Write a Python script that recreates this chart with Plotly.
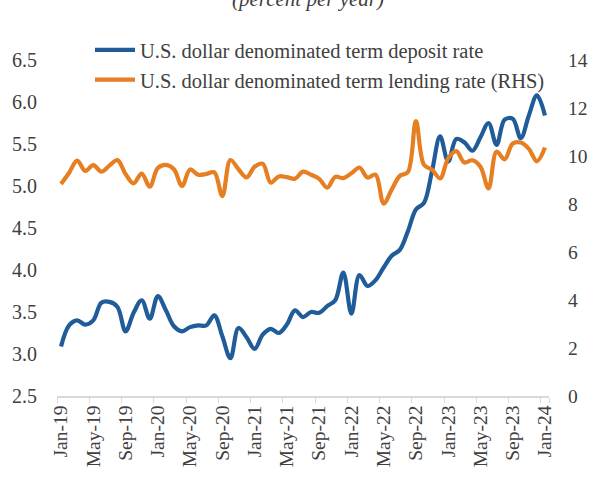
import plotly.graph_objects as go

months = ["Jan", "Feb", "Mar", "Apr", "May", "Jun", "Jul", "Aug", "Sep", "Oct", "Nov", "Dec"]
categories = [f"{m}-{y:02d}" for y in range(19, 24) for m in months] + ["Jan-24"]

deposit_rate = [
    3.09, 3.34, 3.40, 3.35, 3.40, 3.61, 3.62, 3.56, 3.27, 3.49, 3.64, 3.42,
    3.69, 3.52, 3.33, 3.27, 3.32, 3.34, 3.34, 3.46, 3.21, 2.95, 3.31, 3.20,
    3.06, 3.23, 3.30, 3.25, 3.35, 3.52, 3.44, 3.50, 3.49, 3.57, 3.64, 3.97,
    3.48, 3.94, 3.81, 3.88, 4.03, 4.17, 4.24, 4.46, 4.72, 4.80, 5.18, 5.59,
    5.29, 5.56, 5.52, 5.42, 5.58, 5.75, 5.49, 5.79, 5.80, 5.57, 5.84, 6.08,
    5.84,
]

lending_rate = [
    8.83, 9.30, 9.81, 9.38, 9.62, 9.35, 9.60, 9.83, 9.25, 8.86, 9.27, 8.72,
    9.50, 9.63, 9.45, 8.75, 9.44, 9.22, 9.25, 9.32, 8.33, 9.83, 9.45, 9.11,
    9.55, 9.68, 8.89, 9.15, 9.12, 9.05, 9.35, 9.22, 9.05, 8.68, 9.13, 9.08,
    9.28, 9.52, 9.10, 9.22, 8.02, 8.60, 9.17, 9.33, 11.45, 9.63, 9.43, 9.07,
    9.90, 10.20, 9.73, 9.82, 9.55, 8.65, 10.18, 9.86, 10.52, 10.56, 10.30, 9.78,
    10.35,
]

tick_labels = categories[::4]

series_names = [
    "U.S. dollar denominated term deposit rate",
    "U.S. dollar denominated term lending rate (RHS)",
]
title_text = "(percent per year)"

FONT = "Liberation Serif"
TXT = "#404040"
BLUE = "#1f5c99"
ORANGE = "#e67e22"

fig = go.Figure()
fig.add_trace(go.Scatter(
    x=categories, y=deposit_rate, name=series_names[0], mode="lines",
    line=dict(color=BLUE, width=4.2, shape="spline", smoothing=1.0),
    yaxis="y",
))
fig.add_trace(go.Scatter(
    x=categories, y=lending_rate, name=series_names[1], mode="lines",
    line=dict(color=ORANGE, width=4.2, shape="spline", smoothing=1.0),
    yaxis="y2",
))

fig.update_layout(
    width=590, height=477,
    margin=dict(l=57, r=41, t=60, b=81, autoexpand=False),
    paper_bgcolor="white", plot_bgcolor="white",
    font=dict(family=FONT, color=TXT, size=20),
    showlegend=True,
    legend=dict(
        xref="container", yref="container",
        x=0.1525, y=0.937, xanchor="left", yanchor="top",
        bgcolor="rgba(0,0,0,0)", font=dict(size=20.5, color=TXT),
        tracegroupgap=0, itemwidth=40,
    ),
    xaxis=dict(
        type="category", categoryorder="array", categoryarray=categories,
        range=[-0.5, len(categories) - 0.5],
        tickmode="array", tickvals=tick_labels, ticktext=tick_labels,
        tickson="boundaries",
        tickangle=-90, tickfont=dict(size=19.5, color=TXT),
        ticks="outside", ticklen=5, tickcolor="#d9d9d9", tickwidth=1,
        showline=True, linecolor="#d9d9d9", linewidth=1.5,
        showgrid=False, zeroline=False, automargin=False,
    ),
    yaxis=dict(
        range=[2.5, 6.5], dtick=0.5, tick0=2.5, tickformat=".1f",
        showgrid=False, zeroline=False, showline=False,
        ticks="", ticklabelstandoff=19, automargin=False,
        tickfont=dict(size=20, color=TXT),
    ),
    yaxis2=dict(
        range=[0, 14], dtick=2, tick0=0, overlaying="y", side="right",
        showgrid=False, zeroline=False, showline=False,
        ticks="", ticklabelstandoff=18, automargin=False,
        tickfont=dict(size=19.5, color=TXT),
    ),
    annotations=[dict(
        text=f"<i>{title_text}</i>", xref="paper", yref="paper",
        x=0.511, y=1.183, xanchor="center", yanchor="middle",
        showarrow=False, font=dict(size=21, color=TXT, family=FONT),
    )],
)

fig.write_html(
    "out.html",
    config={"displayModeBar": False},
    post_script="document.body.style.margin='0';document.body.style.padding='0';",
)
